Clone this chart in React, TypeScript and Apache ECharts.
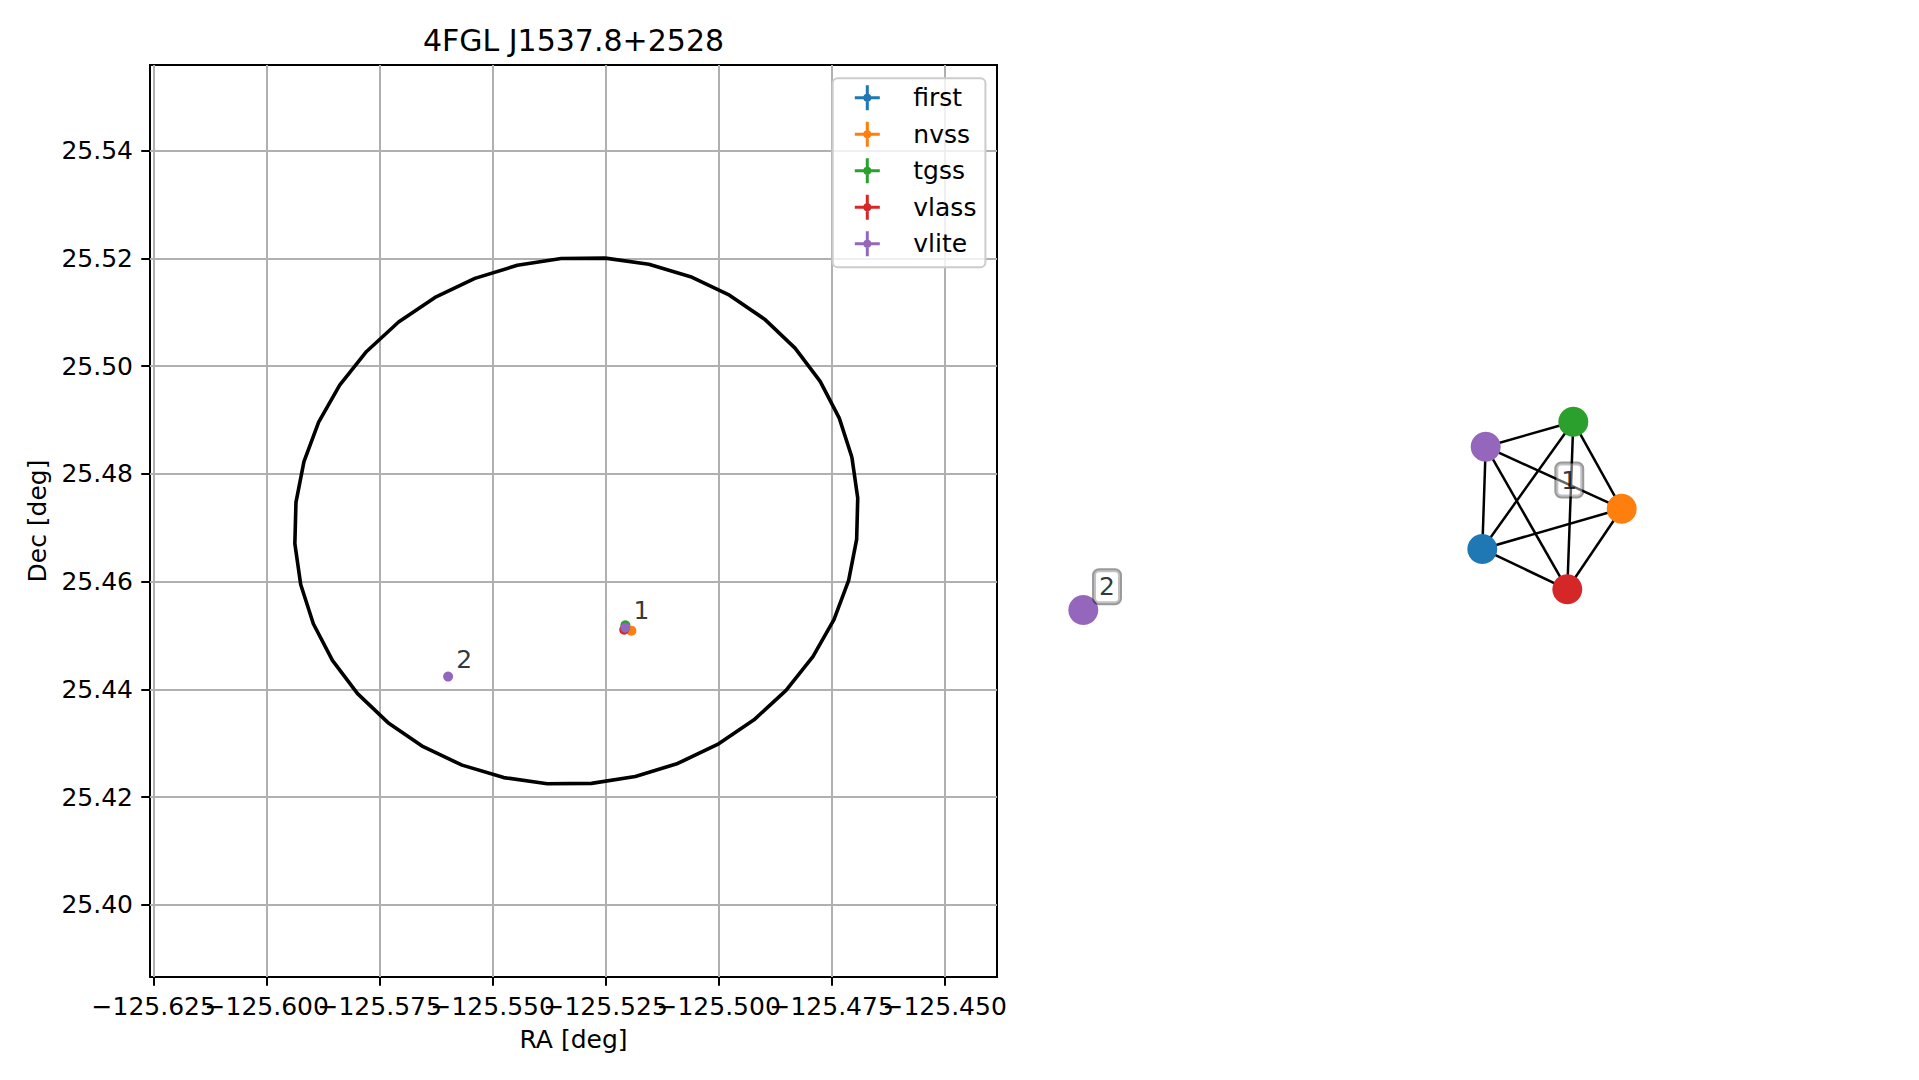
import React, { useEffect, useRef } from 'react';
import * as echarts from 'echarts';

// ---------------- data ----------------
const TITLE = '4FGL J1537.8+2528';
const X_NAME = 'RA [deg]';
const Y_NAME = 'Dec [deg]';

const X_MIN = -125.62582;
const X_MAX = -125.43842;
const Y_MIN = 25.38659;
const Y_MAX = 25.5559;
const X_TICKS = [-125.625, -125.6, -125.575, -125.55, -125.525, -125.5, -125.475, -125.45];
const Y_TICKS = [25.4, 25.42, 25.44, 25.46, 25.48, 25.5, 25.52, 25.54];

const SURVEYS = ['first', 'nvss', 'tgss', 'vlass', 'vlite'];
const SURVEY_COLORS = ['#1f77b4', '#ff7f0e', '#2ca02c', '#d62728', '#9467bd'];
const FIRST_PTS = [[-125.5206, 25.45145]];
const NVSS_PTS = [[-125.51931, 25.45088]];
const TGSS_PTS = [[-125.52064, 25.45188]];
const VLASS_PTS = [[-125.5209, 25.45105]];
const VLITE_PTS = [[-125.52064, 25.45142], [-125.55986, 25.44236]];

const SOURCE_LABELS = ['1', '2'];
const SOURCE_POS = [[-125.5206, 25.4514], [-125.55986, 25.44236]];

// Fermi error ellipse
const ELLIPSE_CENTER = [-125.5315, 25.47126];
const ELLIPSE_SEMI_RA = 0.06258;
const ELLIPSE_SEMI_DEC = 0.04871;
const ELLIPSE_TILT_DEG = 13;
const ELLIPSE_VERTICES = 40;

// association graph (layout coordinates)
const NODE_SURVEY = ['vlite', 'first', 'nvss', 'tgss', 'vlass', 'vlite'];
const NODE_X = [-0.8647, 0.3822, 0.8178, 0.6666, 0.6478, 0.3928];
const NODE_Y = [-0.3438, -0.1531, -0.0272, 0.2447, -0.279, 0.1666];
const EDGES = [[1, 2], [1, 3], [1, 4], [1, 5], [2, 3], [2, 4], [2, 5], [3, 4], [3, 5], [4, 5]];
const GROUP_LABELS = ['1', '2'];
const GROUP_LABEL_X = [0.654, -0.7906];
const GROUP_LABEL_Y = [0.0625, -0.271];

// ---------------- layout ----------------
const FONT = 'DejaVu Sans';
const G1 = { left: 150, top: 65, width: 847, height: 912 };
const G2 = { left: 1040, top: 380, width: 640, height: 240 };

// errorbar legend handle (25x25 glyph), with an empty anchor at x=53.5 so the
// icon box (53.5 x 25) keeps the glyph on its left and leaves room before the text
const LEGEND_ICON =
  'path://M0,11 L25,11 L25,14 L0,14 Z M11,0 L14,0 L14,25 L11,25 Z M8.5,12.5 A4,4 0 1,1 16.5,12.5 A4,4 0 1,1 8.5,12.5 Z M53.5,0 L53.5,0 Z M53.5,25 L53.5,25 Z';

function ellipsePoints() {
  const kx = G1.width / (X_MAX - X_MIN);
  const ky = G1.height / (Y_MAX - Y_MIN);
  const th = (ELLIPSE_TILT_DEG * Math.PI) / 180;
  const A = ELLIPSE_SEMI_RA * kx;
  const B = ELLIPSE_SEMI_DEC * ky;
  const pts: number[][] = [];
  for (let i = 0; i <= ELLIPSE_VERTICES; i++) {
    const t = (i / ELLIPSE_VERTICES) * 2 * Math.PI;
    const u = A * Math.cos(t);
    const v = B * Math.sin(t);
    const X = u * Math.cos(th) - v * Math.sin(th);
    const Y = u * Math.sin(th) + v * Math.cos(th);
    pts.push([ELLIPSE_CENTER[0] + X / kx, ELLIPSE_CENTER[1] + Y / ky]);
  }
  return pts;
}

const fmtX = (v: number) => v.toFixed(3).replace('-', '\u2212');
const fmtY = (v: number) => v.toFixed(2).replace('-', '\u2212');

// the tick labels overlap each other (as in the original); split them over two
// coincident axes so that no label gets hidden by overlap handling
const X_LABELS_A = X_TICKS.filter((_, i) => i % 2 === 0);
const X_LABELS_B = X_TICKS.filter((_, i) => i % 2 === 1);

const labelStyle = {
  margin: 17,
  fontSize: 25,
  color: '#000',
  fontFamily: FONT,
  showMinLabel: true,
  showMaxLabel: true,
  hideOverlap: false,
};

export default function App() {
  const ref = useRef<HTMLDivElement>(null);

  useEffect(() => {
    if (!ref.current) return;
    const chart = echarts.init(ref.current, undefined, { renderer: 'svg' });
    const surveyData = [FIRST_PTS, NVSS_PTS, TGSS_PTS, VLASS_PTS, VLITE_PTS];
    const colorOf = (s: string) => SURVEY_COLORS[SURVEYS.indexOf(s)];

    const option: any = {
      animation: false,
      backgroundColor: '#ffffff',
      textStyle: { fontFamily: FONT },
      graphic: [
        {
          type: 'text',
          x: G1.left + G1.width / 2,
          y: 40.5,
          style: {
            text: TITLE,
            fontSize: 30,
            fontFamily: FONT,
            fill: '#000',
            textAlign: 'center',
            textVerticalAlign: 'middle',
          },
        },
      ],
      legend: {
        data: SURVEYS.map((s) => ({ name: s, icon: LEGEND_ICON })),
        orient: 'vertical',
        left: 832.7,
        top: 78.3,
        itemWidth: 53.5,
        itemHeight: 25,
        itemGap: 11.5,
        padding: [7, 9, 11, 22.1],
        backgroundColor: 'rgba(255,255,255,0.8)',
        borderColor: '#cccccc',
        borderWidth: 2,
        borderRadius: 5,
        selectedMode: false,
        textStyle: {
          fontSize: 25,
          lineHeight: 25,
          color: '#000',
          fontFamily: FONT,
        },
        z: 10,
      },
      grid: [
        {
          left: G1.left,
          top: G1.top,
          width: G1.width,
          height: G1.height,
          show: true,
          borderColor: '#000',
          borderWidth: 2,
          backgroundColor: 'transparent',
        },
        { left: G2.left, top: G2.top, width: G2.width, height: G2.height, show: false },
      ],
      xAxis: [
        {
          type: 'value',
          gridIndex: 0,
          position: 'bottom',
          min: X_MIN,
          max: X_MAX,
          name: X_NAME,
          nameLocation: 'middle',
          nameGap: 50,
          nameTextStyle: { fontSize: 25, color: '#000', fontFamily: FONT },
          axisLine: { show: false, onZero: false },
          axisTick: {
            show: true,
            inside: false,
            length: 8.75,
            lineStyle: { color: '#000', width: 2 },
            customValues: X_TICKS,
          },
          axisLabel: { ...labelStyle, customValues: X_LABELS_A, formatter: fmtX },
          splitLine: { show: true, lineStyle: { color: '#b0b0b0', width: 2 } },
        },
        { type: 'value', gridIndex: 1, min: -1, max: 1, show: false },
        {
          type: 'value',
          gridIndex: 0,
          position: 'bottom',
          offset: 0,
          min: X_MIN,
          max: X_MAX,
          axisLine: { show: false, onZero: false },
          axisTick: { show: false },
          splitLine: { show: false },
          axisLabel: { ...labelStyle, customValues: X_LABELS_B, formatter: fmtX },
        },
      ],
      yAxis: [
        {
          type: 'value',
          gridIndex: 0,
          min: Y_MIN,
          max: Y_MAX,
          name: Y_NAME,
          nameLocation: 'middle',
          nameGap: 100,
          nameTextStyle: { fontSize: 25, color: '#000', fontFamily: FONT },
          axisLine: { show: false, onZero: false },
          axisTick: {
            show: true,
            inside: false,
            length: 8.75,
            lineStyle: { color: '#000', width: 2 },
            customValues: Y_TICKS,
          },
          axisLabel: { ...labelStyle, customValues: Y_TICKS, formatter: fmtY },
          splitLine: { show: true, lineStyle: { color: '#b0b0b0', width: 2 } },
        },
        { type: 'value', gridIndex: 1, min: -0.375, max: 0.375, show: false },
      ],
      series: [
        {
          name: 'ellipse',
          type: 'line',
          xAxisIndex: 0,
          yAxisIndex: 0,
          data: ellipsePoints(),
          symbol: 'none',
          showSymbol: false,
          lineStyle: { color: '#000', width: 3.6, join: 'round' },
          silent: true,
          z: 3,
        },
        ...SURVEYS.map((s, i) => ({
          name: s,
          type: 'scatter',
          xAxisIndex: 0,
          yAxisIndex: 0,
          data: surveyData[i],
          symbol: 'circle',
          symbolSize: 10,
          itemStyle: { color: SURVEY_COLORS[i], opacity: 1 },
          silent: true,
          z: 4,
        })),
        {
          name: 'annotations',
          type: 'scatter',
          xAxisIndex: 0,
          yAxisIndex: 0,
          data: SOURCE_POS,
          symbol: 'circle',
          symbolSize: 1,
          itemStyle: { color: 'rgba(0,0,0,0)' },
          label: {
            show: true,
            position: 'inside',
            offset: [16, -17.5],
            formatter: (p: any) => SOURCE_LABELS[p.dataIndex],
            fontSize: 25,
            color: '#000',
            fontFamily: FONT,
          },
          silent: true,
          z: 5,
        },
        {
          name: 'graph',
          type: 'graph',
          coordinateSystem: 'cartesian2d',
          xAxisIndex: 1,
          yAxisIndex: 1,
          layout: 'none',
          data: NODE_SURVEY.map((s, i) => ({
            value: [NODE_X[i], NODE_Y[i]],
            itemStyle: { color: colorOf(s) },
          })),
          links: EDGES.map(([a, b]) => ({ source: a, target: b })),
          symbol: 'circle',
          symbolSize: 30,
          label: { show: false },
          lineStyle: { color: '#000', width: 2.5, opacity: 1, curveness: 0 },
          emphasis: { disabled: true },
          silent: true,
          z: 3,
        },
        {
          name: 'groupLabels',
          type: 'scatter',
          xAxisIndex: 1,
          yAxisIndex: 1,
          data: GROUP_LABELS.map((_, i) => [GROUP_LABEL_X[i], GROUP_LABEL_Y[i]]),
          symbol: 'circle',
          symbolSize: 1,
          itemStyle: { color: 'rgba(0,0,0,0)' },
          label: {
            show: true,
            position: 'inside',
            formatter: (p: any) => GROUP_LABELS[p.dataIndex],
            fontSize: 25,
            color: '#000',
            fontFamily: FONT,
            backgroundColor: 'rgba(255,255,255,0.5)',
            borderColor: 'rgba(0,0,0,0.5)',
            borderWidth: 2,
            borderRadius: 5,
            padding: [5, 5, 3, 5],
          },
          silent: true,
          z: 10,
        },
      ],
    };

    chart.setOption(option);
    return () => chart.dispose();
  }, []);

  return (
    <div
      ref={ref}
      style={{ position: 'fixed', left: 0, top: 0, width: 1919, height: 1080, background: '#fff' }}
    />
  );
}
